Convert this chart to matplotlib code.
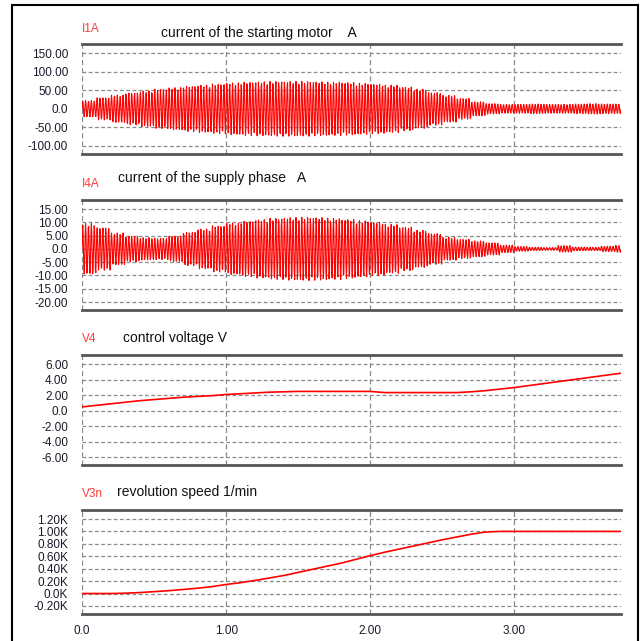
import numpy as np
import matplotlib.pyplot as plt
from matplotlib.patches import Rectangle

plt.rcParams['font.family'] = ['Liberation Sans', 'DejaVu Sans']
plt.rcParams['axes.unicode_minus'] = False

# envelope of the currents, read every 0.1 s (amplitude, symmetric about 0)
env_t = np.round(np.arange(0, 3.8, 0.1), 1)
i1a_amp = [22, 30, 37, 43, 48, 53, 57, 61, 64, 67,
           70, 72, 73, 74, 74, 74, 73, 72, 71, 69,
           67, 64, 59, 53, 44, 36, 28, 19, 14, 12,
           12, 13, 12, 12, 13, 14, 13, 13]
i4a_amp = [9.5, 8.0, 6.0, 4.8, 4.2, 4.0, 4.8, 6.3, 7.5, 8.7,
           9.7, 10.4, 11.0, 11.5, 11.8, 11.9, 11.8, 11.5, 11.1, 10.6,
           10.0, 9.2, 8.2, 7.0, 5.8, 4.3, 3.6, 3.0, 2.3, 1.4,
           0.9, 0.6, 0.5, 1.2, 0.7, 0.6, 1.0, 1.3]
mains_hz = 50

# slow signals, read every 0.1 s
v4 = [0.5, 0.7, 0.9, 1.1, 1.3, 1.45, 1.6, 1.75, 1.85, 1.95,
      2.1, 2.2, 2.3, 2.4, 2.45, 2.5, 2.5, 2.5, 2.5, 2.5,
      2.5, 2.35, 2.35, 2.35, 2.35, 2.35, 2.35, 2.45, 2.6, 2.8,
      3.0, 3.25, 3.5, 3.75, 4.0, 4.25, 4.5, 4.75]
v3n = [0.0, 0.0, 0.0, 0.005, 0.015, 0.03, 0.045, 0.065, 0.085, 0.11,
       0.145, 0.175, 0.21, 0.25, 0.29, 0.34, 0.39, 0.44, 0.49, 0.55,
       0.61, 0.665, 0.715, 0.765, 0.815, 0.865, 0.91, 0.955, 0.99, 1.0,
       1.0, 1.0, 1.0, 1.0, 1.0, 1.0, 1.0, 1.0]

t_end = 3.74
xticks = [0, 1, 2, 3]
xlabels = ['0.0', '1.00', '2.00', '3.00']

i1a_ticks = [150, 100, 50, 0, -50, -100]
i1a_labels = ['150.00', '100.00', '50.00', '0.0', '-50.00', '-100.00']
i4a_ticks = [15, 10, 5, 0, -5, -10, -15, -20]
i4a_labels = ['15.00', '10.00', '5.00', '0.0', '-5.00', '-10.00', '-15.00', '-20.00']
v4_ticks = [6, 4, 2, 0, -2, -4, -6]
v4_labels = ['6.00', '4.00', '2.00', '0.0', '-2.00', '-4.00', '-6.00']
v3n_ticks = [1.2, 1.0, 0.8, 0.6, 0.4, 0.2, 0.0, -0.2]
v3n_labels = ['1.20K', '1.00K', '0.80K', '0.60K', '0.40K', '0.20K', '0.0K', '-0.20K']

W, H = 644, 641
fig = plt.figure(figsize=(W / 100, H / 100), dpi=100)

red = '#ff0000'
grid_c = '#8a8a8a'


def make_ax(top, bottom, ylim, ticks, labels):
    ax = fig.add_axes([82 / W, 1 - bottom / H, 539 / W, (bottom - top) / H])
    ax.set_xlim(0, t_end)
    ax.set_ylim(*ylim)
    ax.set_xticks(xticks)
    ax.set_yticks(ticks)
    ax.set_yticklabels(labels)
    ax.tick_params(length=0, pad=10, labelsize=8.5, colors='#1a1a2a')
    ax.tick_params(axis='x', labelbottom=False)
    ax.grid(axis='y', linestyle=(0, (3, 2)), color=grid_c, lw=0.9)
    ax.grid(axis='x', linestyle=(0, (4, 2.5)), color=grid_c, lw=0.9)
    for s in ['left', 'right']:
        ax.spines[s].set_visible(False)
    for s in ['top', 'bottom']:
        ax.spines[s].set_linewidth(2)
        ax.spines[s].set_color('#555555')
    return ax


def label(x, y, name, title):
    fig.text(82 / W, 1 - y[0] / H, name, color='#ff3b3b', fontsize=8.5, va='baseline')
    fig.text(x / W, 1 - y[1] / H, title, color='#111111', fontsize=10, va='baseline')


# oscillating currents
t = np.arange(0, t_end, 0.0031)
blk = np.minimum((t / 0.1).astype(int), len(env_t) - 1)
carrier = np.sin(2 * np.pi * mains_hz * t)

ax1 = make_ax(44, 154, (-122, 175), i1a_ticks, i1a_labels)
ax1.plot(t, np.array(i1a_amp)[blk] * carrier, color=red, lw=0.8)
label(161, (32, 37), 'I1A', 'current of the starting motor    A')

ax2 = make_ax(200, 310, (-23, 18.4), i4a_ticks, i4a_labels)
ax2.plot(t, np.array(i4a_amp)[blk] * carrier, color=red, lw=0.8)
label(118, (187, 182), 'I4A', 'current of the supply phase   A')

ax3 = make_ax(355, 465, (-7.0, 7.2), v4_ticks, v4_labels)
ax3.plot(list(env_t) + [t_end], v4 + [4.85], color=red, lw=1.2)
label(123, (342, 342), 'V4', 'control voltage V')

ax4 = make_ax(510, 614, (-0.33, 1.345), v3n_ticks, v3n_labels)
ax4.plot(list(env_t) + [t_end], v3n + [1.0], color=red, lw=1.2)
ax4.set_xticklabels(xlabels)
ax4.tick_params(axis='x', labelbottom=True, pad=8)
label(117, (497, 496), 'V3n', 'revolution speed 1/min')

fig.add_artist(Rectangle((12 / W, -0.1), 626 / W, 1 - 5 / H + 0.1,
                         transform=fig.transFigure, fill=False, ec='black', lw=1.5))

fig.savefig('out.png', dpi=100)
